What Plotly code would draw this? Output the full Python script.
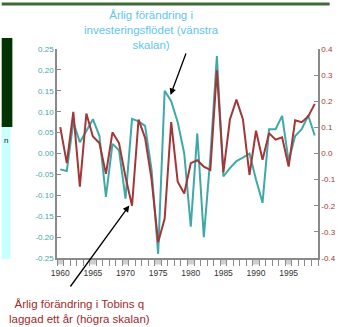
import plotly.graph_objects as go

# Annual series, 1960-1999
years = list(range(1960, 2000))

# Annual change in the investment flow (left scale)
investment_change = [
    -0.038, -0.042, 0.075, 0.027, 0.054, 0.082, 0.042, -0.104, 0.023, 0.008,
    -0.108, 0.083, 0.077, 0.066, -0.040, -0.240, 0.150, 0.125, 0.075, 0.000,
    -0.175, 0.048, -0.200, -0.010, 0.233, -0.055, -0.035, -0.018, -0.010, 0.000,
    -0.062, -0.118, 0.058, 0.058, 0.090, -0.018, 0.042, 0.058, 0.091, 0.043,
]

# Annual change in Tobin's q, lagged one year (right scale)
tobins_q_change = [
    0.101, -0.037, 0.159, -0.127, 0.153, 0.065, 0.040, -0.078, 0.081, 0.040,
    -0.090, -0.200, 0.130, 0.060, -0.100, -0.340, -0.249, 0.120, -0.108, -0.153,
    -0.037, -0.026, -0.050, -0.063, 0.318, -0.072, 0.130, 0.206, 0.130, -0.082,
    0.087, -0.024, 0.078, 0.053, 0.062, -0.050, 0.127, 0.120, 0.142, 0.190,
]

left_ticks = [0.25, 0.20, 0.15, 0.10, 0.05, 0.00, -0.05, -0.10, -0.15, -0.20, -0.25]
right_ticks = [0.4, 0.3, 0.2, 0.1, 0.0, -0.1, -0.2, -0.3, -0.4]
year_labels = [1960, 1965, 1970, 1975, 1980, 1985, 1990, 1995]

TEAL = "#3fa8a8"
RED = "#a33636"
FONT = "Liberation Sans, Arial, sans-serif"

W, H = 348, 327
PL, PR, PT, PB = 57, 326, 49, 258


def px2x(px):
    return (px - PL) / (PR - PL)


def py2y(py):
    return (PB - py) / (PB - PT)


fig = go.Figure()
fig.add_trace(go.Scatter(
    x=years, y=investment_change, mode="lines",
    line=dict(color=TEAL, width=2), yaxis="y", hoverinfo="skip",
))
fig.add_trace(go.Scatter(
    x=years, y=tobins_q_change, mode="lines",
    line=dict(color=RED, width=2), yaxis="y2", hoverinfo="skip",
))

shapes = []
# shaded cells of the year ruler under the plot
for yr in year_labels:
    shapes.append(dict(type="rect", xref="x", yref="paper",
                       x0=yr - 0.5, x1=yr + 0.5, y0=0, y1=py2y(264.5),
                       fillcolor="#cfcfcf", line=dict(width=0), layer="below"))
# slide decorations at the left edge and the top rule
shapes.append(dict(type="rect", xref="paper", yref="paper",
                   x0=px2x(0), x1=px2x(11), y0=py2y(38), y1=py2y(127),
                   fillcolor="#023402", line=dict(width=0)))
shapes.append(dict(type="rect", xref="paper", yref="paper",
                   x0=px2x(0), x1=px2x(9), y0=py2y(127), y1=py2y(259),
                   fillcolor="#c8ffff", line=dict(width=0)))
shapes.append(dict(type="rect", xref="paper", yref="paper",
                   x0=px2x(0), x1=px2x(338), y0=py2y(2.5), y1=py2y(5.5),
                   fillcolor="#3d6a35", line=dict(width=0)))

annotations = [
    dict(text="Årlig förändring i<br>investeringsflödet (vänstra<br>skalan)",
         xref="paper", yref="paper", x=px2x(154), y=py2y(29.5),
         xanchor="center", yanchor="middle", showarrow=False,
         font=dict(family=FONT, size=11.5, color="#62c4f0")),
    dict(text="Årlig förändring i Tobins q<br>laggad ett år (högra skalan)",
         xref="paper", yref="paper", x=px2x(80.5), y=py2y(311.5),
         xanchor="center", yanchor="middle", showarrow=False,
         font=dict(family=FONT, size=11.5, color="#a02a2a")),
    dict(text="", xref="paper", yref="paper", x=px2x(174), y=py2y(95),
         ax=16, ay=-43, showarrow=True, arrowhead=2, arrowsize=1,
         arrowwidth=1.3, arrowcolor="black"),
    dict(text="", xref="paper", yref="paper", x=px2x(131.5), y=py2y(205.5),
         ax=-60, ay=82.5, showarrow=True, arrowhead=2, arrowsize=1,
         arrowwidth=1.3, arrowcolor="black"),
    dict(text="n", xref="paper", yref="paper", x=px2x(0), y=py2y(140),
         xanchor="left", yanchor="middle", showarrow=False,
         font=dict(family=FONT, size=8, color="#222222")),
]

fig.update_layout(
    width=W, height=H,
    margin=dict(l=PL, r=W - PR, t=PT, b=H - PB, pad=0),
    paper_bgcolor="white", plot_bgcolor="white",
    showlegend=False,
    font=dict(family=FONT),
    shapes=shapes,
    annotations=annotations,
    xaxis=dict(
        range=[1959.5, 1999.5], showgrid=False, zeroline=False,
        showline=True, linecolor="#8a8a8a", linewidth=1.5,
        tickvals=year_labels, ticktext=[str(v) for v in year_labels],
        ticks="outside", ticklen=6, tickcolor="rgba(0,0,0,0)",
        tickfont=dict(size=8.5, color="#333333"),
        minor=dict(tick0=1959.5, dtick=1, ticks="outside", ticklen=6,
                   tickcolor="#8a8a8a", tickwidth=1, showgrid=False),
    ),
    yaxis=dict(
        range=[-0.25, 0.25], showgrid=False, zeroline=False,
        showline=True, linecolor="#8a8a8a", linewidth=1.5,
        tickvals=left_ticks, ticktext=[f"{v:.2f}" for v in left_ticks],
        ticks="inside", ticklen=4, tickcolor="#8a8a8a",
        tickfont=dict(size=8, color=TEAL),
    ),
    yaxis2=dict(
        range=[-0.4, 0.4], overlaying="y", side="right",
        showgrid=False, zeroline=False,
        showline=True, linecolor="#8a8a8a", linewidth=1.5,
        tickvals=right_ticks, ticktext=[f"{v:.1f}" for v in right_ticks],
        ticks="inside", ticklen=4, tickcolor="#8a8a8a",
        tickfont=dict(size=8, color=RED),
    ),
)

fig.write_html("out.html")
